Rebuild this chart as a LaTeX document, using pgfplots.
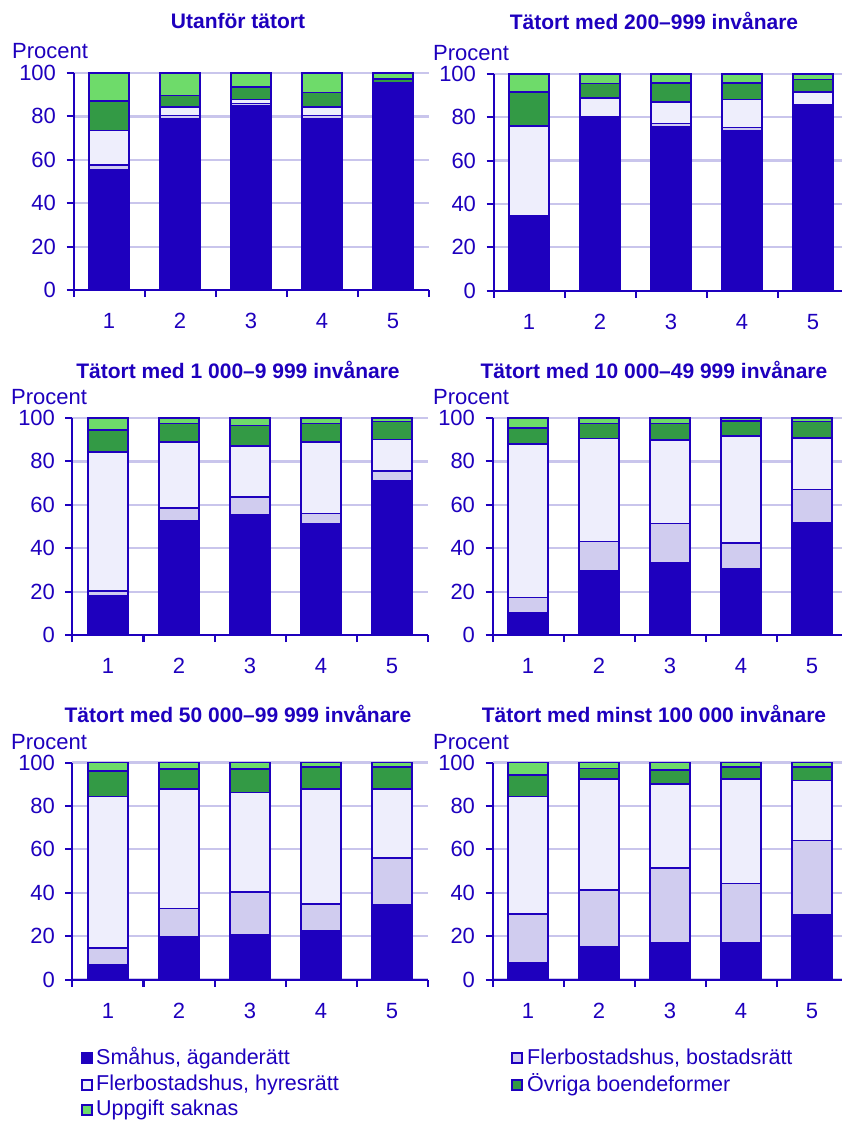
\documentclass[border=0pt]{standalone}
\usepackage{pgfplots}
\pgfplotsset{compat=1.18}
\usepackage{pgfplotstable}
\usepackage{fontspec}
\setmainfont{Liberation Sans}
\definecolor{scbblue}{HTML}{1E00BE}
\definecolor{lpurple}{HTML}{D0CCEF}
\definecolor{vlight}{HTML}{EEEEFC}
\definecolor{dgreen}{HTML}{339A45}
\definecolor{lgreen}{HTML}{6EDB6A}
\definecolor{gridc}{HTML}{C9C5EC}

\pgfplotstableread{
x a b c d e
1 55.5 2.0 16.0 13.6 12.9
2 78.7 1.8 3.9 5.3 10.3
3 85.0 0.9 1.8 5.9 6.4
4 78.7 1.8 3.9 6.6 9.0
5 95.0 0.3 0.3 1.7 2.7
}\tA
\pgfplotstableread{
x a b c d e
1 34.0 0.3 41.6 15.8 8.3
2 80.0 0.2 8.7 6.6 4.5
3 75.6 1.4 10.0 8.7 4.3
4 73.8 1.4 12.9 7.6 4.3
5 85.5 0.2 6.0 5.7 2.6
}\tB
\pgfplotstableread{
x a b c d e
1 18.0 2.2 64.2 10.2 5.4
2 52.6 6.0 30.4 8.4 2.6
3 55.6 8.0 23.6 9.3 3.5
4 51.1 4.9 33.0 8.4 2.6
5 71.1 4.4 14.6 8.2 1.7
}\tC
\pgfplotstableread{
x a b c d e
1 10.3 7.0 70.7 7.5 4.5
2 29.8 13.3 47.5 6.8 2.6
3 33.5 17.9 38.6 7.4 2.6
4 30.7 11.6 49.4 6.8 1.5
5 51.7 15.3 23.9 7.4 1.7
}\tD
\pgfplotstableread{
x a b c d e
1 6.6 7.9 69.8 11.8 3.9
2 19.6 13.2 55.0 9.3 2.9
3 20.5 19.7 45.9 11.0 2.9
4 22.5 12.3 53.0 10.2 2.0
5 34.2 21.7 31.9 10.2 2.0
}\tE
\pgfplotstableread{
x a b c d e
1 7.7 22.5 54.2 9.9 5.7
2 15.1 26.2 51.1 4.8 2.8
3 16.9 34.4 38.7 6.5 3.5
4 16.9 27.3 48.2 5.6 2.0
5 29.7 34.4 27.6 6.3 2.0
}\tF

\pgfplotsset{panel/.style={
  scale only axis, width=355pt, height=217pt,
  anchor=south west,
  ybar stacked, bar width=40pt,
  xmin=0.5, xmax=5.5, ymin=0, ymax=100,
  xtick={0.5,1.5,2.5,3.5,4.5,5.5}, x tick label as interval, xticklabels={1,2,3,4,5},
  ytick={0,20,40,60,80,100},
  ymajorgrids, grid style={gridc, line width=2.2pt},
  axis x line*=bottom, axis y line*=left,
  axis line style={scbblue, line width=2pt},
  tick style={scbblue, line width=2pt},
  tick align=outside, major tick length=7pt,
  ticklabel style={font=\fontsize{22}{26}\selectfont, text=scbblue},
  xticklabel style={yshift=-13pt},
  yticklabel style={xshift=-7pt},
  /pgf/number format/assume math mode=true,
  every axis plot/.append style={draw=scbblue, line width=1.6pt},
  clip=false,
}}
\newcommand{\bars}[1]{%
  \addplot[fill=scbblue] table[x=x,y=a]{#1};
  \addplot[fill=lpurple] table[x=x,y=b]{#1};
  \addplot[fill=vlight] table[x=x,y=c]{#1};
  \addplot[fill=dgreen] table[x=x,y=d]{#1};
  \addplot[fill=lgreen] table[x=x,y=e]{#1};
}
\tikzset{ttl/.style={font=\bfseries\fontsize{21}{24}\selectfont, text=scbblue},
  proc/.style={font=\fontsize{22}{26}\selectfont, text=scbblue, anchor=west, inner sep=0pt},
  leg/.style={font=\fontsize{21.5}{25}\selectfont, text=scbblue, anchor=west, inner sep=0pt},
  key/.style={draw=scbblue, line width=1.6pt}}

\begin{document}
\begin{tikzpicture}
\path[use as bounding box] (0pt,0pt) rectangle (842pt,-1124pt);
\fill[white] (0pt,0pt) rectangle (842pt,-1124pt);

\begin{axis}[panel, at={(73.5pt,-290pt)}]
\bars{\tA}
\end{axis}
\begin{axis}[panel, at={(493.5pt,-290.7pt)}]
\bars{\tB}
\end{axis}
\begin{axis}[panel, at={(72.5pt,-635pt)}]
\bars{\tC}
\end{axis}
\begin{axis}[panel, at={(492.5pt,-635pt)}]
\bars{\tD}
\end{axis}
\begin{axis}[panel, at={(72.5pt,-979.5pt)}]
\bars{\tE}
\end{axis}
\begin{axis}[panel, at={(492.5pt,-979.5pt)}]
\bars{\tF}
\end{axis}

\node[ttl] at (238pt,-21pt) {Utanför tätort};
\node[ttl] at (654pt,-21pt) {Tätort med 200–999 invånare};
\node[ttl] at (238pt,-370pt) {Tätort med 1 000–9 999 invånare};
\node[ttl] at (654pt,-370pt) {Tätort med 10 000–49 999 invånare};
\node[ttl] at (238pt,-714pt) {Tätort med 50 000–99 999 invånare};
\node[ttl] at (654pt,-714pt) {Tätort med minst 100 000 invånare};

\node[proc] at (12pt,-51pt) {Procent};
\node[proc] at (433pt,-53pt) {Procent};
\node[proc] at (11pt,-397pt) {Procent};
\node[proc] at (433pt,-397pt) {Procent};
\node[proc] at (11pt,-742pt) {Procent};
\node[proc] at (433pt,-742pt) {Procent};

\draw[key, fill=scbblue] (82pt,-1053pt) rectangle (92pt,-1063pt);
\node[leg] at (96pt,-1058pt) {Småhus, äganderätt};
\draw[key, fill=vlight] (82pt,-1080pt) rectangle (92pt,-1090pt);
\node[leg] at (96pt,-1085pt) {Flerbostadshus, hyresrätt};
\draw[key, fill=lgreen] (82pt,-1105pt) rectangle (92pt,-1115pt);
\node[leg] at (96pt,-1110pt) {Uppgift saknas};
\draw[key, fill=lpurple] (512pt,-1053pt) rectangle (522pt,-1063pt);
\node[leg] at (527pt,-1058pt) {Flerbostadshus, bostadsrätt};
\draw[key, fill=dgreen] (512pt,-1080pt) rectangle (522pt,-1090pt);
\node[leg] at (527pt,-1085pt) {Övriga boendeformer};
\end{tikzpicture}
\end{document}
